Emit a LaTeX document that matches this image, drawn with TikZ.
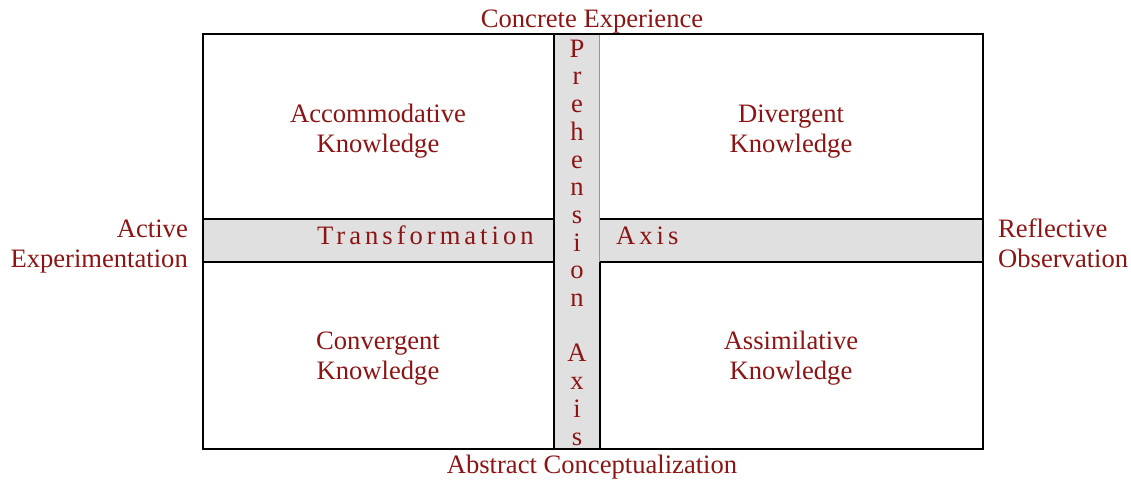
\documentclass[tikz,border=0pt]{standalone}
\usepackage{fontspec}
\setmainfont{Liberation Serif}
\definecolor{txtred}{RGB}{140,20,20}
\definecolor{bandgray}{RGB}{224,224,224}
\definecolor{edgegray}{RGB}{150,150,150}
\begin{document}
\begin{tikzpicture}[x=1pt,y=-1pt,
  lbl/.style={text=txtred,font=\fontsize{26.6}{30}\selectfont,inner sep=0pt,anchor=base},
  spaced/.style={text=txtred,font=\fontsize{26.6}{30}\selectfont\addfontfeature{LetterSpace=15},inner sep=0pt,anchor=base west},
  heavy/.style={line width=2.8pt,black}]
\useasboundingbox (0,0) rectangle (1131,483);
% horizontal band
\fill[bandgray] (203,219) rectangle (983,262);
\draw[heavy] (203,219) -- (983,219);
\draw[heavy] (203,262) -- (983,262);
% vertical band
\fill[bandgray] (554,34) rectangle (600,449);
\draw[heavy] (554,34) -- (554,449);
\draw[edgegray,line width=1pt] (599.5,34) -- (599.5,262);
\draw[heavy] (600,262) -- (600,449);
% outer frame
\draw[heavy] (203,34) rectangle (983,449);
% labels
\node[lbl] (ce) at (592,27) {Concrete Experience};
\node[lbl] (ac) at (592,473) {Abstract Conceptualization};
\node[lbl,align=right,anchor=base east] (ae) at (188,267) {Active\\Experimentation};
\node[lbl,align=left,anchor=base west] (ro) at (998,267) {Reflective\\Observation};
\node[lbl,align=center] (acc) at (378,152) {Accommodative\\Knowledge};
\node[lbl,align=center] (div) at (791,152) {Divergent\\Knowledge};
\node[lbl,align=center] (con) at (378,379) {Convergent\\Knowledge};
\node[lbl,align=center] (ass) at (791,379) {Assimilative\\Knowledge};
\node[spaced] (tr) at (317,244) {Transformation};
\node[spaced] (ax) at (616,244) {Axis};
\node[lbl,align=center,font=\fontsize{26.6}{27.7}\selectfont] (pa) at (577,445)
  {P\\r\\e\\h\\e\\n\\s\\i\\o\\n\\\mbox{}\\A\\x\\i\\s};
\end{tikzpicture}
\end{document}
